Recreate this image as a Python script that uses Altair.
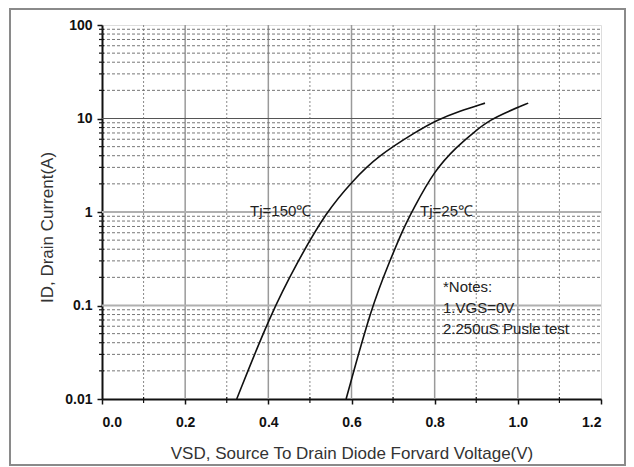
import altair as alt
import pandas as pd

# Curve data
v150 = [0.324, 0.404, 0.472, 0.539, 0.604, 0.661, 0.757, 0.805, 0.86, 0.921]
i150 = [0.01, 0.0786, 0.304, 1.0, 2.18, 3.9, 7.3, 9.6, 12.0, 14.6]
v25 = [0.587, 0.649, 0.693, 0.72, 0.749, 0.80, 0.853, 0.90, 0.933, 0.975, 1.025]
i25 = [0.01, 0.1, 0.304, 0.6, 1.09, 2.8, 5.0, 7.5, 9.6, 11.8, 14.6]

x_ticks = [0.0, 0.2, 0.4, 0.6, 0.8, 1.0, 1.2]
x_minor = [0.1, 0.3, 0.5, 0.7, 0.9, 1.1]
x_major_grid = [0.2, 0.4, 0.6, 0.8, 1.0]
y_ticks = [0.01, 0.1, 1, 10, 100]
y_minor = [m * d for d in [0.01, 0.1, 1, 10] for m in range(2, 10)]
y_grid_dark = [10]
y_grid_light = [0.1, 1]

labels_text = ["Tj=150℃", "Tj=25℃"]
labels_x = [0.356, 0.765]
labels_y = [1.0, 1.0]
notes_text = ["*Notes:", "1.VGS=0V", "2.250uS Pusle test"]
notes_x = [0.82, 0.82, 0.82]
notes_y = [0.158, 0.095, 0.0566]

W, H = 499, 374
FONT = "Liberation Sans"

curves = pd.DataFrame(
    {"v": v150 + v25, "i": i150 + i25,
     "s": ["150"] * len(v150) + ["25"] * len(v25)}
)

xs = alt.Scale(domain=[0, 1.2], nice=False)
ys = alt.Scale(type="log", domain=[0.01, 100], nice=False)

base_x_axis = alt.Axis(
    values=x_ticks, format=".1f", title="VSD, Source To Drain Diode Forvard Voltage(V)",
    labelFont=FONT, labelFontWeight="bold", labelFontSize=14, labelColor="#111",
    titleFont=FONT, titleFontWeight="normal", titleFontSize=17, titleColor="#333",
    titlePadding=16, labelPadding=11, grid=False, tickSize=5, tickColor="#111",
    tickWidth=1.5, domainColor="#111", domainWidth=2,
)
base_y_axis = alt.Axis(
    values=y_ticks, labelExpr="datum.value >= 1 ? format(datum.value, 'd') : format(datum.value, '')",
    title="ID,  Drain Current(A)",
    labelFont=FONT, labelFontWeight="bold", labelFontSize=14, labelColor="#111",
    titleFont=FONT, titleFontWeight="normal", titleFontSize=17, titleColor="#333",
    titlePadding=8, titleY=202, labelPadding=5, grid=False, tickSize=5, tickColor="#111",
    tickWidth=1.5, domainColor="#111", domainWidth=2,
)

vminor = alt.Chart(pd.DataFrame({"x": x_minor})).mark_rule(
    color="#888", strokeWidth=1, strokeDash=[2, 2]
).encode(x=alt.X("x:Q", scale=xs, axis=base_x_axis), y=alt.value(0), y2=alt.value(H))

vmajor = alt.Chart(pd.DataFrame({"x": x_major_grid})).mark_rule(
    color="#9a9a9a", strokeWidth=1.5
).encode(x=alt.X("x:Q", scale=xs), y=alt.value(0), y2=alt.value(H))

hminor = alt.Chart(pd.DataFrame({"y": y_minor})).mark_rule(
    color="#777", strokeWidth=1, strokeDash=[3, 2]
).encode(y=alt.Y("y:Q", scale=ys, axis=base_y_axis), x=alt.value(0), x2=alt.value(W))

hdark = alt.Chart(pd.DataFrame({"y": y_grid_dark})).mark_rule(
    color="#555", strokeWidth=1.2
).encode(y=alt.Y("y:Q", scale=ys), x=alt.value(0), x2=alt.value(W))

hlight = alt.Chart(pd.DataFrame({"y": y_grid_light})).mark_rule(
    color="#b0b0b0", strokeWidth=2
).encode(y=alt.Y("y:Q", scale=ys), x=alt.value(0), x2=alt.value(W))

# minor ticks on axes
yminor_ticks = alt.Chart(pd.DataFrame({"y": y_minor})).mark_rule(
    color="#111", strokeWidth=1.2
).encode(y=alt.Y("y:Q", scale=ys), x=alt.value(-3), x2=alt.value(2))

xminor_ticks = alt.Chart(pd.DataFrame({"x": x_minor})).mark_rule(
    color="#111", strokeWidth=1.2
).encode(x=alt.X("x:Q", scale=xs), y=alt.value(H - 2), y2=alt.value(H + 4))

lines = alt.Chart(curves).mark_line(
    color="#111", strokeWidth=1.6, interpolate="basis"
).encode(
    x=alt.X("v:Q", scale=xs),
    y=alt.Y("i:Q", scale=ys),
    detail="s:N",
)

lbl = alt.Chart(pd.DataFrame({"t": labels_text, "x": labels_x, "y": labels_y})).mark_text(
    align="left", baseline="middle", font=FONT, fontSize=15, color="#222", dy=-1
).encode(x=alt.X("x:Q", scale=xs), y=alt.Y("y:Q", scale=ys), text="t:N")

notes = alt.Chart(pd.DataFrame({"t": notes_text, "x": notes_x, "y": notes_y})).mark_text(
    align="left", baseline="middle", font=FONT, fontSize=15, color="#222"
).encode(x=alt.X("x:Q", scale=xs), y=alt.Y("y:Q", scale=ys), text="t:N")

frame = alt.Chart(pd.DataFrame({"a": [0]})).mark_rect(
    fill=None, stroke="#8a8a8a", strokeWidth=2, clip=False
).encode(x=alt.value(-92), x2=alt.value(W + 24), y=alt.value(-16), y2=alt.value(H + 66))

chart = alt.layer(
    vminor, vmajor, hminor, hlight, hdark, yminor_ticks, xminor_ticks, lines, lbl, notes, frame
).properties(
    width=W, height=H,
    autosize=alt.AutoSizeParams(type="none"),
    padding={"left": 94, "top": 17, "right": 25, "bottom": 68},
).configure_view(stroke="#333", strokeWidth=1.5).configure(background="white")

chart.save("out.html", embed_options={"renderer": "svg", "actions": False})
